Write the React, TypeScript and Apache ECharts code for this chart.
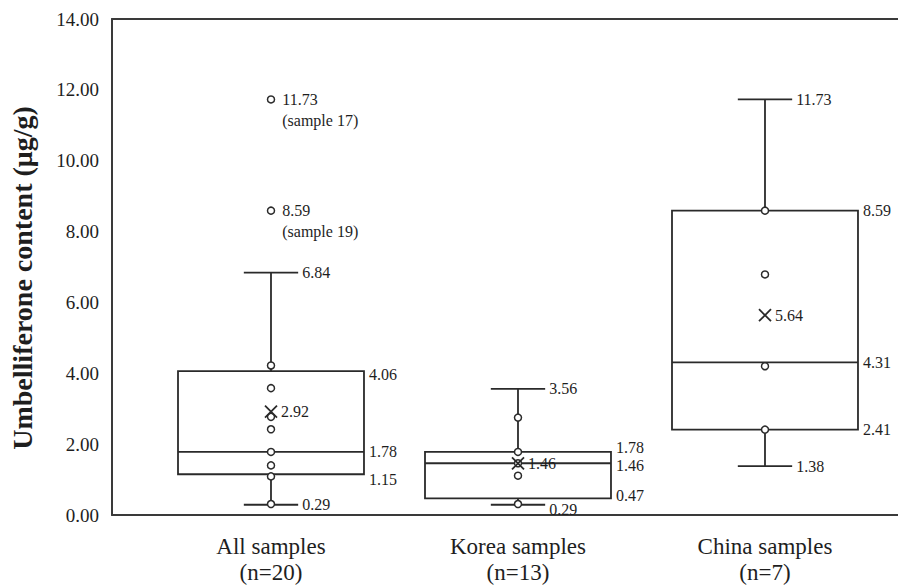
import React, { useEffect, useRef } from "react";
import * as echarts from "echarts";

// ---- data ----
const categories = ["All samples", "Korea samples", "China samples"];
const sampleCounts = ["(n=20)", "(n=13)", "(n=7)"];
const minVals = [0.29, 0.29, 1.38];
const q1Vals = [1.15, 0.47, 2.41];
const medianVals = [1.78, 1.46, 4.31];
const q3Vals = [4.06, 1.78, 8.59];
const maxVals = [6.84, 3.56, 11.73];
const meanVals = [2.92, 1.46, 5.64];
const allPoints = [4.22, 3.58, 2.77, 2.42, 1.78, 1.4, 1.09, 0.31];
const koreaPoints = [2.75, 1.78, 1.46, 1.11, 0.31];
const chinaPoints = [8.59, 6.79, 4.2, 2.41];
const outlierVals = [11.73, 8.59];
const outlierNotes = ["(sample 17)", "(sample 19)"];
const yAxisTitle = "Umbelliferone content (μg/g)";

// ---- styling constants ----
const SERIF = "'Liberation Serif', 'Times New Roman', serif";
const LINE = "#2a2a2a";
const TEXT = "#1e1e1e";
const BOX_HALF = 0.3765; // x units
const CAP_HALF = 0.11;
const LABEL_NUDGE: Record<string, number> = {
  "0-q3": 3,
  "0-q1": 5,
  "1-q3": -4,
  "1-med": 2,
  "1-q1": -3,
  "1-min": 5,
};

export default function App() {
  const ref = useRef<HTMLDivElement>(null);

  useEffect(() => {
    if (!ref.current) return;
    const chart = echarts.init(ref.current, null, { renderer: "svg" });

    const outlierLabel = {
      position: "right",
      distance: 7,
      offset: [0, 10.5],
      fontSize: 16,
      lineHeight: 21,
      color: TEXT,
      fontFamily: SERIF,
      align: "left",
    };

    const boxData = categories.map((_, i) => [
      i + 1,
      minVals[i],
      q1Vals[i],
      medianVals[i],
      q3Vals[i],
      maxVals[i],
    ]);
    const meanData = meanVals.map((v, i) => [i + 1, v]);
    const pointData: any[] = [
      ...allPoints.map((v) => [1, v]),
      ...koreaPoints.map((v) => [2, v]),
      ...chinaPoints.map((v) => [3, v]),
      ...outlierVals.map((v, k) => ({
        value: [1, v],
        label: {
          ...outlierLabel,
          show: true,
          formatter: `${v.toFixed(2)}\n${outlierNotes[k]}`,
        },
      })),
    ];

    const lineStyle = { stroke: LINE, lineWidth: 1.8, fill: null };
    const seg = (x1: number, y1: number, x2: number, y2: number) => ({
      type: "line",
      shape: { x1, y1, x2, y2 },
      style: lineStyle,
    });
    const txt = (s: string, x: number, y: number) => ({
      type: "text",
      x,
      y,
      style: {
        text: s,
        fill: TEXT,
        fontSize: 16,
        fontFamily: SERIF,
        align: "left",
        verticalAlign: "middle",
      },
    });

    const renderBox = (params: any, api: any) => {
      const i = params.dataIndex;
      const x = api.value(0);
      const pMin = api.coord([x, api.value(1)]);
      const pQ1 = api.coord([x, api.value(2)]);
      const pMed = api.coord([x, api.value(3)]);
      const pQ3 = api.coord([x, api.value(4)]);
      const pMax = api.coord([x, api.value(5)]);
      const bw = api.size([BOX_HALF, 0])[0];
      const cw = api.size([CAP_HALF, 0])[0];
      const cx = pMin[0];
      const n = (k: string) => LABEL_NUDGE[`${i}-${k}`] || 0;
      return {
        type: "group",
        children: [
          {
            type: "rect",
            shape: { x: cx - bw, y: pQ3[1], width: 2 * bw, height: pQ1[1] - pQ3[1] },
            style: { stroke: LINE, lineWidth: 1.8, fill: "none" },
          },
          seg(cx - bw, pMed[1], cx + bw, pMed[1]),
          seg(cx, pQ3[1], cx, pMax[1]),
          seg(cx, pQ1[1], cx, pMin[1]),
          seg(cx - cw, pMax[1], cx + cw, pMax[1]),
          seg(cx - cw, pMin[1], cx + cw, pMin[1]),
          txt(api.value(5).toFixed(2), cx + cw + 4, pMax[1] + n("max")),
          txt(api.value(1).toFixed(2), cx + cw + 4, pMin[1] + n("min")),
          txt(api.value(4).toFixed(2), cx + bw + 5, pQ3[1] + n("q3")),
          txt(api.value(3).toFixed(2), cx + bw + 5, pMed[1] + n("med")),
          txt(api.value(2).toFixed(2), cx + bw + 5, pQ1[1] + n("q1")),
        ],
      };
    };

    const renderMean = (_params: any, api: any) => {
      const p = api.coord([api.value(0), api.value(1)]);
      const h = 6;
      return {
        type: "group",
        children: [
          seg(p[0] - h, p[1] - h, p[0] + h, p[1] + h),
          seg(p[0] - h, p[1] + h, p[0] + h, p[1] - h),
          txt(api.value(1).toFixed(2), p[0] + 10, p[1]),
        ],
      };
    };

    const xMin = 0.3563;
    const xMax = 3.5385;

    chart.setOption({
      animation: false,
      backgroundColor: "#ffffff",
      grid: { left: 112, right: 0, top: 19, bottom: 68 },
      xAxis: [
        {
          type: "value",
          min: xMin,
          max: xMax,
          position: "bottom",
          splitLine: { show: false },
          axisTick: { show: false },
          axisLine: { show: true, onZero: false, lineStyle: { color: "#3a3a3a", width: 2 } },
          axisLabel: {
            customValues: [1, 2, 3],
            formatter: (v: number) => {
              const i = Math.round(v) - 1;
              return categories[i] ? `${categories[i]}\n${sampleCounts[i]}` : "";
            },
            fontSize: 23,
            lineHeight: 26,
            margin: 18,
            color: TEXT,
            fontFamily: SERIF,
          },
        },
        {
          type: "value",
          min: xMin,
          max: xMax,
          position: "top",
          splitLine: { show: false },
          axisTick: { show: false },
          axisLabel: { show: false },
          axisLine: { show: true, onZero: false, lineStyle: { color: "#3a3a3a", width: 2 } },
        },
      ],
      yAxis: {
        type: "value",
        min: 0,
        max: 14,
        interval: 2,
        splitLine: { show: false },
        axisTick: { show: false },
        axisLine: { show: true, lineStyle: { color: "#3a3a3a", width: 2 } },
        axisLabel: {
          formatter: (v: number) => v.toFixed(2),
          fontSize: 19,
          margin: 13,
          color: TEXT,
          fontFamily: SERIF,
        },
      },
      graphic: [
        {
          type: "text",
          x: 22,
          y: 278,
          rotation: Math.PI / 2,
          style: {
            text: yAxisTitle,
            fill: TEXT,
            fontSize: 28,
            fontWeight: "bold",
            fontFamily: SERIF,
            align: "center",
            verticalAlign: "middle",
          },
        },
      ],
      series: [
        {
          type: "custom",
          name: "box",
          renderItem: renderBox,
          data: boxData,
          encode: { x: 0, y: [1, 2, 3, 4, 5] },
          z: 2,
        },
        {
          type: "scatter",
          name: "samples",
          data: pointData,
          symbol: "circle",
          symbolSize: 7,
          itemStyle: { color: "#ffffff", borderColor: LINE, borderWidth: 1.5, opacity: 1 },
          label: { show: false, ...outlierLabel },
          emphasis: { disabled: true },
          z: 3,
        },
        {
          type: "custom",
          name: "mean",
          renderItem: renderMean,
          data: meanData,
          encode: { x: 0, y: 1 },
          z: 4,
        },
      ],
    });

    return () => chart.dispose();
  }, []);

  return (
    <div
      ref={ref}
      style={{ position: "fixed", left: 0, top: 0, width: 898, height: 585, background: "#fff" }}
    />
  );
}
